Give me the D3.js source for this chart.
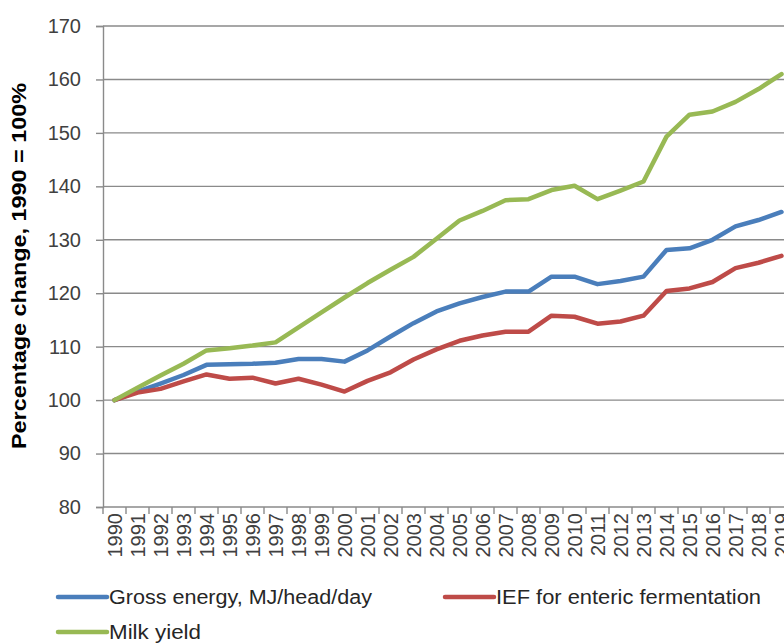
<!DOCTYPE html>
<html>
<head>
<meta charset="utf-8">
<script src="https://cdn.jsdelivr.net/npm/d3@7"></script>
<style>
  html, body { margin: 0; padding: 0; background: #fff; }
  svg { display: block; }
</style>
</head>
<body>
<svg id="chart" width="784" height="644"></svg>
<script>
const years = [1990,1991,1992,1993,1994,1995,1996,1997,1998,1999,2000,2001,2002,2003,2004,2005,2006,2007,2008,2009,2010,2011,2012,2013,2014,2015,2016,2017,2018,2019];
const grossEnergy = [100,101.6,103.1,104.7,106.6,106.7,106.8,107.0,107.7,107.7,107.2,109.3,111.9,114.4,116.6,118.1,119.3,120.3,120.3,123.1,123.1,121.7,122.3,123.1,128.1,128.4,130.0,132.5,133.7,135.2];
const iefEnteric = [100,101.4,102.1,103.5,104.8,104.0,104.2,103.1,104.0,102.9,101.6,103.6,105.2,107.6,109.5,111.1,112.1,112.8,112.8,115.8,115.6,114.3,114.7,115.8,120.4,120.9,122.1,124.7,125.7,127.0];
const milkYield = [100,102.3,104.6,106.8,109.3,109.7,110.2,110.8,113.6,116.4,119.2,121.9,124.4,126.8,130.2,133.6,135.4,137.4,137.6,139.3,140.1,137.6,139.2,140.9,149.3,153.4,154.0,155.8,158.2,161.0];
const yTicks = [80,90,100,110,120,130,140,150,160,170];
const seriesNames = ["Gross energy, MJ/head/day","IEF for enteric fermentation","Milk yield"];
const seriesColors = ["#4a7ebb","#be4b48","#98b954"];

const svg = d3.select("#chart");
const numFont = "'Liberation Sans', Arial, sans-serif";
const narrowFont = "'Liberation Sans Narrow', 'Arial Narrow', 'Liberation Sans', sans-serif";

const x = d3.scaleBand().domain(years).range([103, 793]).padding(0);
const y = d3.scaleLinear().domain([80,170]).range([507, 26]);
const cx = d => x(d) + x.bandwidth()/2;

// gridlines
svg.append("g").selectAll("line").data(yTicks.filter(t => t > 80)).join("line")
  .attr("x1", 103).attr("x2", 784)
  .attr("y1", d => y(d)).attr("y2", d => y(d))
  .attr("stroke", "#8a8a8a").attr("stroke-width", 1.4);

// y axis
const yAxis = d3.axisLeft(y).tickValues(yTicks).tickSize(7).tickPadding(15);
const gy = svg.append("g").attr("transform", "translate(103,0)").call(yAxis);
gy.select(".domain").attr("stroke", "#8a8a8a").attr("stroke-width", 1.4);
gy.selectAll(".tick line").attr("stroke", "#8a8a8a").attr("stroke-width", 1.4);
gy.selectAll(".tick text").attr("font-family", numFont).attr("font-size", 20).attr("fill", "#404040");

// x axis baseline
svg.append("line").attr("x1", 103).attr("x2", 784).attr("y1", y(80)).attr("y2", y(80))
  .attr("stroke", "#8a8a8a").attr("stroke-width", 1.4);
// x tick marks at category boundaries
svg.append("g").selectAll("line").data(years).join("line")
  .attr("x1", d => x(d)).attr("x2", d => x(d))
  .attr("y1", y(80)).attr("y2", y(80) + 7)
  .attr("stroke", "#8a8a8a").attr("stroke-width", 1.4);
// x labels
svg.append("g").selectAll("text").data(years).join("text")
  .attr("transform", d => `translate(${cx(d) + 7},513) rotate(-90)`)
  .attr("text-anchor", "end")
  .attr("font-family", numFont).attr("font-size", 20).attr("fill", "#404040")
  .text(d => d);

// lines
const seriesData = [grossEnergy, iefEnteric, milkYield];
const line = d3.line().x((d,i) => cx(years[i])).y(d => y(d));
svg.append("g").selectAll("path").data(seriesData).join("path")
  .attr("d", line)
  .attr("fill", "none")
  .attr("stroke", (d,i) => seriesColors[i])
  .attr("stroke-width", 4.5)
  .attr("stroke-linejoin", "round")
  .attr("stroke-linecap", "round");

// y title
svg.append("text")
  .attr("transform", "translate(26,266) rotate(-90)")
  .attr("text-anchor", "middle")
  .attr("font-family", narrowFont).attr("font-weight", "bold")
  .attr("font-size", 20).attr("fill", "#000")
  .attr("textLength", 366).attr("lengthAdjust", "spacingAndGlyphs")
  .text("Percentage change, 1990 = 100%");

// legend
const legendPos = [{lx:58, ly:597, w:263},{lx:445, ly:597, w:265},{lx:58, ly:632, w:92}];
const lg = svg.append("g").selectAll("g").data(seriesNames).join("g")
  .attr("transform", (d,i) => `translate(${legendPos[i].lx},${legendPos[i].ly})`);
lg.append("line").attr("x1", 0).attr("x2", 49).attr("y1", 0).attr("y2", 0)
  .attr("stroke", (d,i) => seriesColors[i]).attr("stroke-width", 4.5).attr("stroke-linecap", "round");
lg.append("text").attr("x", 51).attr("y", 7)
  .attr("font-family", narrowFont).attr("font-size", 20).attr("fill", "#262626")
  .attr("textLength", (d,i) => legendPos[i].w).attr("lengthAdjust", "spacingAndGlyphs")
  .text(d => d);
</script>
</body>
</html>
